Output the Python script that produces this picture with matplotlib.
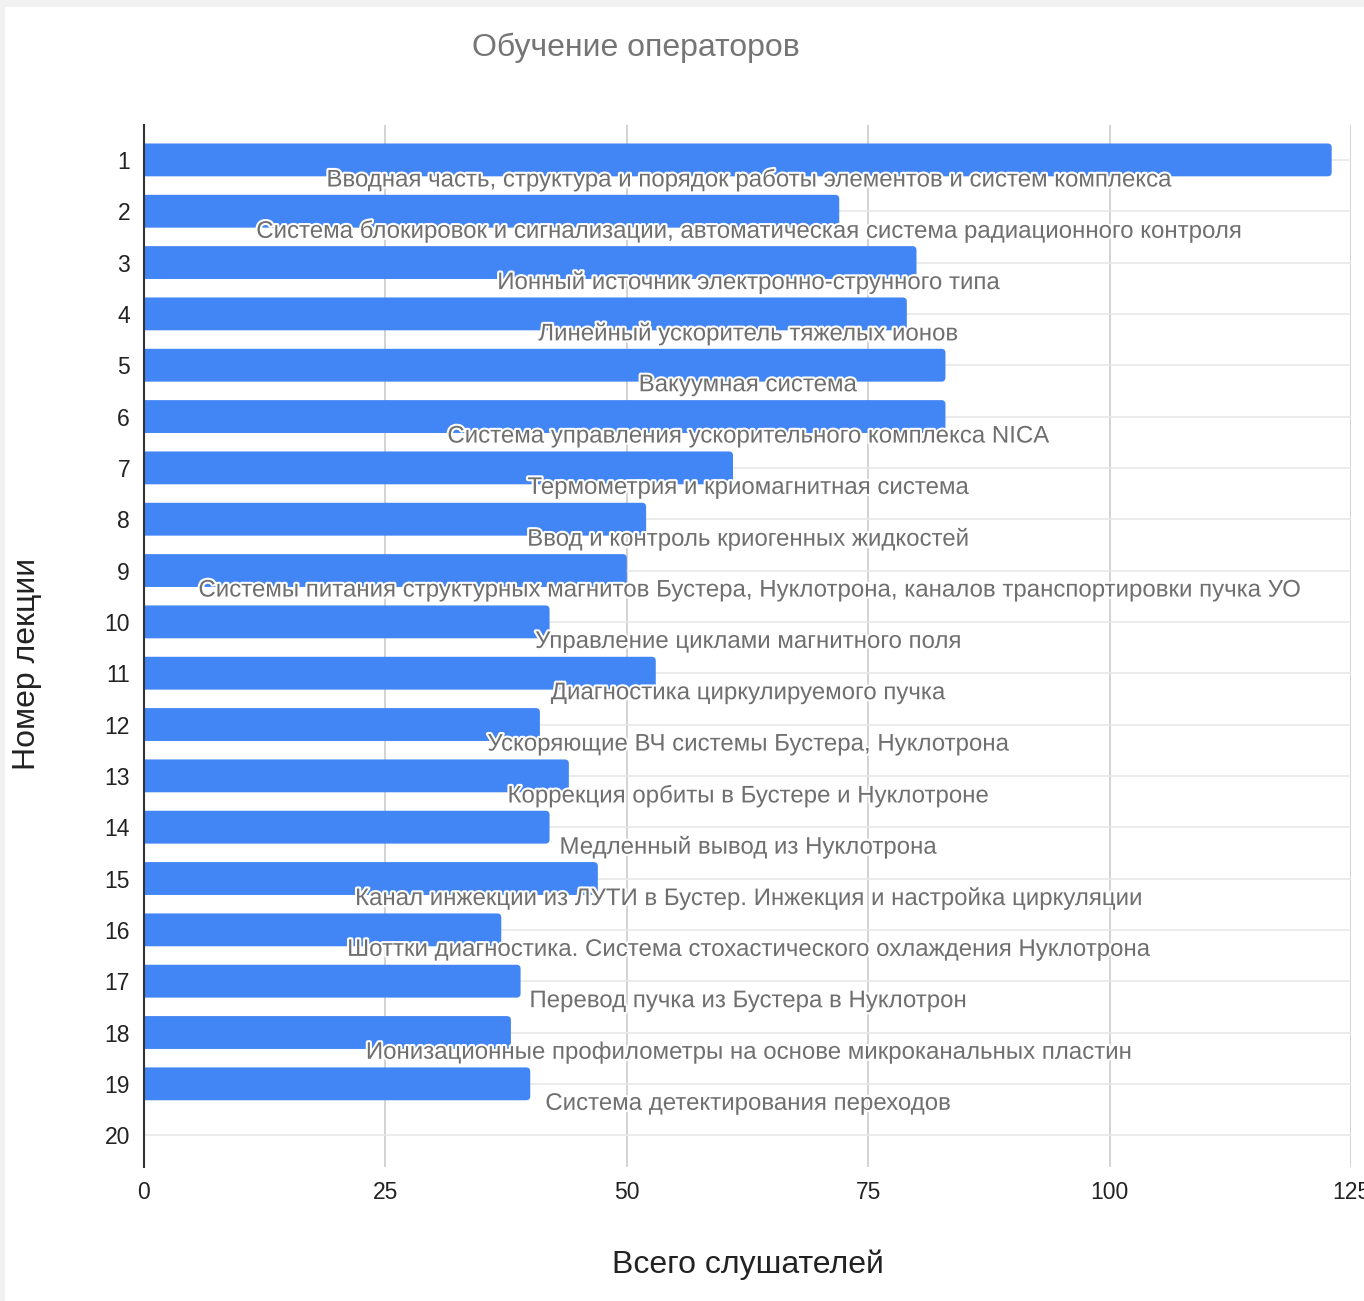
import matplotlib
matplotlib.use("Agg")
import matplotlib.pyplot as plt
import matplotlib.patheffects as pe
from matplotlib.patches import FancyBboxPatch, Rectangle

plt.rcParams["font.family"] = ["Liberation Sans", "DejaVu Sans"]

# --- data ---
lectures = [str(i) for i in range(1, 21)]
listeners = [123, 72, 80, 79, 83, 83, 61, 52, 50, 42, 53, 41, 44, 42, 47, 37, 39, 38, 40, 0]
topics = [
    "Вводная часть, структура и порядок работы элементов и систем комплекса",
    "Система блокировок и сигнализации, автоматическая система радиационного контроля",
    "Ионный источник электронно-струнного типа",
    "Линейный ускоритель тяжелых ионов",
    "Вакуумная система",
    "Система управления ускорительного комплекса NICA",
    "Термометрия и криомагнитная система",
    "Ввод и контроль криогенных жидкостей",
    "Системы питания структурных магнитов Бустера, Нуклотрона, каналов транспортировки пучка УО",
    "Управление циклами магнитного поля",
    "Диагностика циркулируемого пучка",
    "Ускоряющие ВЧ системы Бустера, Нуклотрона",
    "Коррекция орбиты в Бустере и Нуклотроне",
    "Медленный вывод из Нуклотрона",
    "Канал инжекции из ЛУТИ в Бустер. Инжекция и настройка циркуляции",
    "Шоттки диагностика. Система стохастического охлаждения Нуклотрона",
    "Перевод пучка из Бустера в Нуклотрон",
    "Ионизационные профилометры на основе микроканальных пластин",
    "Система детектирования переходов",
    "",
]
x_ticks = [0, 25, 50, 75, 100, 125]

BLUE = "#4285f4"
W, H = 1364, 1301

fig = plt.figure(figsize=(W / 100, H / 100), dpi=100, facecolor="#f1f1f1")
# white card with thin grey page border on top/left
fig.patches.append(Rectangle((5 / W, 0), 1, 1 - 7 / H, transform=fig.transFigure,
                             facecolor="white", edgecolor="none", zorder=-5))

ax = fig.add_axes([144 / W, 1 - 1167 / H, (1351 - 144) / W, (1167 - 125) / H])
ax.set_facecolor("none")

ypos = list(range(1, 21))
bars = ax.barh(ypos, listeners, height=0.64, color=BLUE, zorder=2)

# swap in right-rounded bars (left corners hidden outside the axes)
for b in bars:
    x0, y0 = b.get_x(), b.get_y()
    w, h = b.get_width(), b.get_height()
    b.set_visible(False)
    if w <= 0:
        continue
    fb = FancyBboxPatch((x0 - 2, y0), w + 2, h,
                        boxstyle="round,pad=0,rounding_size=0.42",
                        mutation_aspect=0.19, facecolor=BLUE,
                        edgecolor="none", zorder=2)
    ax.add_patch(fb)

# topic annotations, centred in the plot under each bar
for y, txt in zip(ypos, topics):
    if not txt:
        continue
    ax.text(62.5, y + 0.39, txt, ha="center", va="center", fontsize=17.3,
            color="#6f6f6f", zorder=4,
            path_effects=[pe.withStroke(linewidth=3, foreground="white")])

ax.set_xlim(0, 125)
ax.set_ylim(20.62, 0.32)
ax.set_xticks(x_ticks)
ax.set_yticks(ypos)
ax.set_yticklabels(lectures)
ax.tick_params(axis="both", length=0, labelsize=16.5, colors="#222222")
ax.tick_params(axis="x", pad=10)
ax.tick_params(axis="y", pad=10)

ax.grid(axis="x", color="#cccccc", linewidth=1.2, zorder=0)
ax.grid(axis="y", color="#e8e8e8", linewidth=1.2, zorder=0)
ax.set_axisbelow(True)
for s in ["top", "right", "bottom"]:
    ax.spines[s].set_visible(False)
ax.spines["left"].set_color("#333333")
ax.spines["left"].set_linewidth(1.5)
ax.spines["left"].set_zorder(5)

fig.text(636 / W, 1 - 48 / H, "Обучение операторов", ha="center", va="center",
         fontsize=23, color="#757575")
fig.text(748 / W, 1 - 1265 / H, "Всего слушателей", ha="center", va="center",
         fontsize=23, color="#222222")
fig.text(27 / W, 1 - 664 / H, "Номер лекции", ha="center", va="center",
         rotation=90, fontsize=23, color="#222222")

fig.savefig("out.png", dpi=100)
plt.close(fig)
